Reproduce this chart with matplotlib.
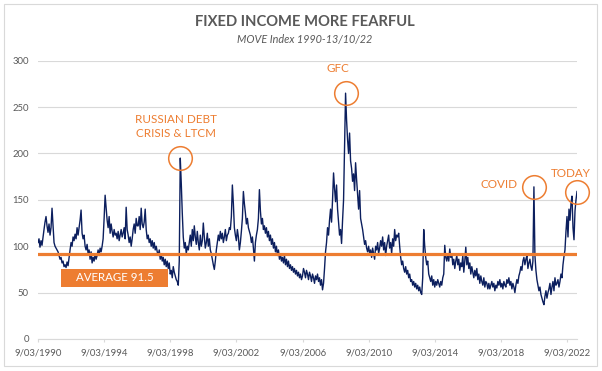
import numpy as np
import pandas as pd
import matplotlib
matplotlib.use("Agg")
import matplotlib.pyplot as plt
from matplotlib.patches import Rectangle

# ---------------- data ----------------
start_date = "1990-03-09"
end_date = "2022-10-13"

move_1990s = [
    104, 108, 99, 106, 101, 110, 118, 126, 132, 122,
    115, 124, 112, 120, 141, 122, 104, 100, 98, 96,
    94, 90, 86, 88, 82, 84, 78, 80, 77, 83,
    79, 88, 96, 104, 100, 110, 106, 113, 108, 120,
    112, 120, 128, 139, 114, 108, 112, 100, 96, 102,
    92, 96, 86, 94, 82, 88, 84, 92, 86, 90,
    96, 90, 98, 94, 100, 108, 130, 155, 142, 128,
    120, 132, 114, 124, 116, 110, 118, 112, 114, 108,
    116, 106, 112, 118, 110, 114, 120, 108, 142, 118,
    112, 104, 110, 100, 108, 118, 124, 114, 130, 122,
    122, 132, 118, 141, 124, 120, 126, 140, 118, 108,
    112, 104, 108, 100, 106, 98, 104, 96, 100, 94,
    90, 96, 86, 92, 84, 88, 80, 86, 78, 84,
    76, 82, 70, 74, 66, 78, 72, 68, 64, 62,
    58, 84, 195, 168, 136, 110, 98, 104, 92, 100,
    96, 104, 112, 100, 118, 106, 122, 110, 102, 116,
]
move_2000s = [
    104, 96, 112, 100, 106, 125, 110, 98, 104, 114,
    100, 108, 96, 92, 86, 80, 75, 84, 96, 104,
    112, 106, 116, 108, 114, 104, 110, 118, 106, 112,
    114, 120, 118, 132, 166, 146, 120, 112, 106, 118,
    110, 96, 104, 116, 130, 159, 146, 136, 124, 130,
    120, 116, 112, 104, 110, 98, 84, 104, 112, 118,
    130, 161, 138, 124, 130, 118, 122, 114, 120, 110,
    116, 106, 112, 102, 108, 98, 104, 94, 100, 90,
    96, 86, 92, 84, 88, 82, 90, 80, 86, 78,
    84, 76, 80, 74, 78, 72, 76, 70, 74, 68,
    72, 66, 70, 64, 68, 76, 72, 66, 74, 70,
    64, 72, 68, 62, 70, 66, 60, 68, 64, 70,
    62, 66, 58, 64, 53, 60, 76, 94, 104, 120,
    112, 128, 140, 126, 150, 179, 162, 148, 166, 140,
    126, 112, 118, 103, 128, 150, 210, 265, 236, 215,
    200, 222, 192, 184, 170, 178, 160, 190, 172, 156,
    140, 160, 130, 124, 118, 110, 102, 106, 98, 94,
]
move_2010s = [
    100, 92, 96, 88, 98, 92, 86, 100, 96, 104,
    92, 98, 106, 100, 110, 96, 104, 90, 100, 106,
    112, 98, 104, 92, 108, 100, 118, 106, 112, 110,
    114, 100, 88, 80, 84, 76, 72, 78, 70, 74,
    66, 70, 62, 64, 58, 62, 56, 60, 54, 58,
    52, 56, 50, 48, 66, 118, 100, 88, 80, 84,
    70, 66, 62, 68, 58, 64, 56, 62, 58, 64,
    60, 56, 62, 58, 66, 70, 101, 88, 84, 92,
    84, 97, 88, 92, 80, 86, 76, 84, 90, 80,
    86, 74, 82, 78, 90, 72, 84, 99, 80, 88,
    76, 82, 70, 78, 72, 66, 74, 68, 76, 64,
    70, 60, 68, 62, 58, 66, 56, 62, 60, 54,
    60, 54, 58, 62, 56, 60, 52, 58, 55, 62,
    58, 64, 56, 60, 54, 62, 58, 56, 64, 60,
    66, 58, 62, 54, 60, 56, 50, 58, 64, 60,
    68, 72, 78, 74, 84, 88, 80, 86, 90, 76,
    82, 86, 78, 74, 84, 164, 90, 74, 64, 58,
]
move_2020s = [
    52, 56, 48, 44, 40, 37, 46, 52, 44, 50,
    54, 60, 48, 56, 62, 52, 66, 58, 60, 64,
    56, 62, 70, 66, 80, 89, 96, 116, 132, 110,
    140, 128, 146, 154, 120, 107, 138, 150, 159,
]

average_value = 91.5
average_label = "AVERAGE 91.5"

tick_dates = ["1990-03-09", "1994-03-09", "1998-03-09", "2002-03-09",
              "2006-03-09", "2010-03-09", "2014-03-09", "2018-03-09",
              "2022-03-09"]
tick_labels = ["9/03/1990", "9/03/1994", "9/03/1998", "9/03/2002",
               "9/03/2006", "9/03/2010", "9/03/2014", "9/03/2018",
               "9/03/2022"]
y_ticks = [0, 50, 100, 150, 200, 250, 300]

event_labels = ["RUSSIAN DEBT\nCRISIS & LTCM", "GFC", "COVID", "TODAY"]
event_windows = [("1998-06-01", "1999-03-31"), ("2008-06-01", "2009-03-31"),
                 ("2020-01-01", "2020-06-30"), ("2022-06-01", "2022-10-13")]
event_text_offsets = [(-2.9, 23.0), (-5.4, 17.5), (-24.8, 1.5), (-4.7, 12.7)]

title = "FIXED INCOME MORE FEARFUL"
subtitle = "MOVE Index 1990-13/10/22"

# ---------------- styling ----------------
NAVY = "#0C1F5E"
ORANGE = "#ED7D31"
GREY_TXT = "#595959"
GRID = "#D9D9D9"
FONT = "Lato"

values = np.array(move_1990s + move_2000s + move_2010s + move_2020s, dtype=float)
dates = pd.date_range(start_date, end_date, periods=len(values))

W, H = 602, 371
fig = plt.figure(figsize=(W / 100, H / 100), dpi=100)
fig.patch.set_facecolor("white")

ax_left, ax_right, ax_bottom, ax_top = 38, 577, 339, 60.7
ax = fig.add_axes([ax_left / W, 1 - ax_bottom / H,
                   (ax_right - ax_left) / W, (ax_bottom - ax_top) / H])

ax.plot(dates, values, color=NAVY, lw=1.0, zorder=2)
ax.axhline(average_value, color=ORANGE, lw=2.3, zorder=3)

ax.set_ylim(0, 300)
ax.set_xlim(pd.Timestamp(start_date), pd.Timestamp(end_date))
ax.set_yticks(y_ticks)
ax.set_yticklabels([str(v) for v in y_ticks])
ax.set_xticks(pd.to_datetime(tick_dates))
ax.set_xticklabels(tick_labels)

ax.yaxis.grid(True, color=GRID, lw=0.8)
ax.set_axisbelow(True)
for s in ["top", "right", "left"]:
    ax.spines[s].set_visible(False)
ax.spines["bottom"].set_color(GRID)
ax.spines["bottom"].set_linewidth(0.8)
ax.tick_params(axis="y", length=0, pad=6.5, labelsize=6.8, labelcolor=GREY_TXT)
ax.tick_params(axis="x", length=2.5, width=0.8, color=GRID, direction="out",
               pad=4.5, labelsize=6.8, labelcolor=GREY_TXT)
for lab in ax.get_xticklabels() + ax.get_yticklabels():
    lab.set_fontfamily(FONT)

# event circles + labels
for label, (d0, d1), off in zip(event_labels, event_windows, event_text_offsets):
    mask = (dates >= pd.Timestamp(d0)) & (dates <= pd.Timestamp(d1))
    idx = np.where(mask)[0]
    peak = idx[np.argmax(values[idx])]
    ax.plot([dates[peak]], [values[peak]], marker="o", ms=17, mfc="none",
            mec=ORANGE, mew=1.1, zorder=4, clip_on=False)
    ax.annotate(label, xy=(dates[peak], values[peak]), xytext=off,
                textcoords="offset points", ha="center", va="center",
                color=ORANGE, fontsize=8.4, fontfamily=FONT, linespacing=1.3,
                annotation_clip=False)

# average box
bx0, bx1, by0, by1 = 60.7, 168.3, 269.0, 286.7
fig.add_artist(Rectangle((bx0 / W, 1 - by1 / H), (bx1 - bx0) / W, (by1 - by0) / H,
                         transform=fig.transFigure, facecolor=ORANGE,
                         edgecolor="none", zorder=5))
fig.text((bx0 + bx1) / 2 / W, 1 - (by0 + by1) / 2 / H, average_label,
         ha="center", va="center", color="white", fontsize=8.3,
         fontfamily=FONT, zorder=6)

# titles
fig.text(305 / W, 1 - 22.5 / H, title, ha="center", va="center",
         fontsize=10.6, fontweight="bold", color=GREY_TXT, fontfamily=FONT)
fig.text(305 / W, 1 - 40 / H, subtitle, ha="center", va="center",
         fontsize=7.8, fontstyle="italic", color=GREY_TXT, fontfamily=FONT)

# outer frame
fig.add_artist(Rectangle((3.5 / W, 1 - 366 / H), 593 / W, 362 / H,
                         transform=fig.transFigure, fill=False,
                         edgecolor=GRID, lw=0.8, zorder=0))

fig.savefig("out.png", dpi=100)
